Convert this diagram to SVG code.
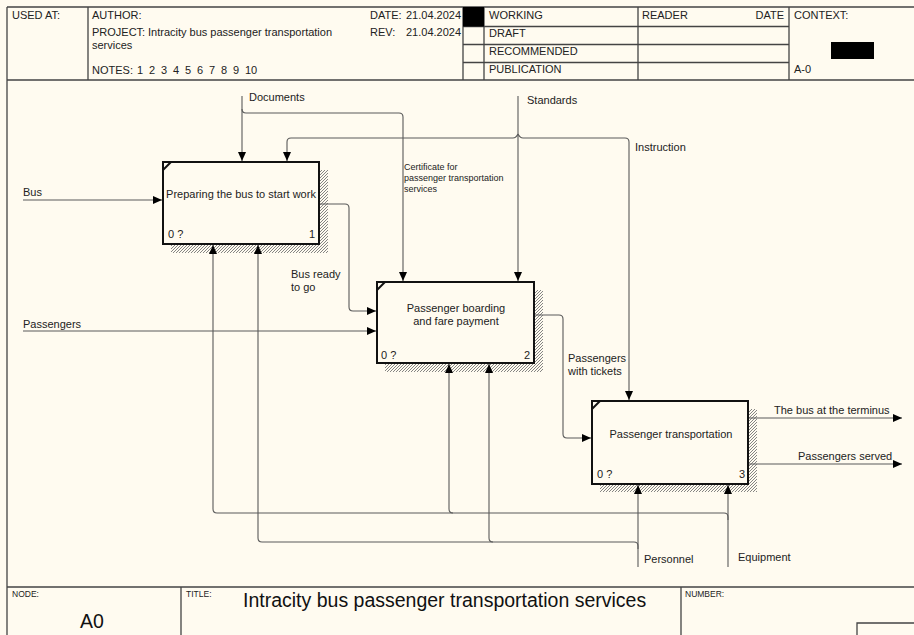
<svg xmlns="http://www.w3.org/2000/svg" width="914" height="635" viewBox="0 0 914 635">
<style>
.t{font-family:"Liberation Sans",Arial,sans-serif;font-size:11px;fill:#222}
.sm{font-size:9px}
.tiny{font-size:8.5px}
.big{font-size:19.5px;fill:#111}
.fr{fill:none;stroke:#444;stroke-width:1.3}
.ln{fill:none;stroke:#5a5a5a;stroke-width:1.1;marker-end:url(#ah)}
.box{fill:#FFFBF0;stroke:#111;stroke-width:2}
.sh{fill:url(#hatch)}
.cm{stroke:#111;stroke-width:2}
</style>
<defs>
<marker id="ah" markerWidth="9" markerHeight="8" refX="9" refY="4" orient="auto" markerUnits="userSpaceOnUse">
<path d="M0,0 L9,4 L0,8 Z" fill="#000"/>
</marker>
<pattern id="hatch" patternUnits="userSpaceOnUse" width="3" height="3">
<rect width="3" height="3" fill="#FFFBF0"/>
<path d="M-1,1 l2,-2 M0,3 l3,-3 M2,4 l2,-2" stroke="#777" stroke-width="0.9"/>
</pattern>
</defs>
<rect width="914" height="635" fill="#FFFBF0"/>

<g id="frame">
<path class="fr" d="M7,7 H914 M7,7 V635 M7,80 H914 M88,7 V80 M463,7 V80 M484,7 V80 M638,7 V80 M789,7 V80 M463,26.5 H789 M463,44.5 H789 M463,62.5 H789"/>
<rect x="463" y="7" width="21" height="19.5" fill="#000"/>
<rect x="831" y="42" width="43" height="17" fill="#000"/>
<text class="t" x="12" y="19">USED AT:</text>
<text class="t" x="92" y="19">AUTHOR:</text>
<text class="t" x="92" y="36">PROJECT:</text>
<text class="t" x="148" y="36">Intracity bus passenger transportation</text>
<text class="t" x="92" y="49">services</text>
<text class="t" x="92" y="74">NOTES:</text>
<text class="t" y="74"><tspan x="137">1</tspan><tspan x="149">2</tspan><tspan x="161">3</tspan><tspan x="173">4</tspan><tspan x="185">5</tspan><tspan x="197">6</tspan><tspan x="209">7</tspan><tspan x="221">8</tspan><tspan x="233">9</tspan><tspan x="245">10</tspan></text>
<text class="t" x="370" y="19">DATE:</text>
<text class="t" x="406" y="19">21.04.2024</text>
<text class="t" x="370" y="36">REV:</text>
<text class="t" x="406" y="36">21.04.2024</text>
<text class="t" x="489" y="19">WORKING</text>
<text class="t" x="489" y="37">DRAFT</text>
<text class="t" x="489" y="55">RECOMMENDED</text>
<text class="t" x="489" y="73">PUBLICATION</text>
<text class="t" x="642" y="19">READER</text>
<text class="t" x="784" y="19" text-anchor="end">DATE</text>
<text class="t" x="794" y="19">CONTEXT:</text>
<text class="t" x="794" y="73">A-0</text>
<path class="fr" d="M7,587 H914 M181,587 V635 M681,587 V635 M857,635 V623 H914"/>
<text class="t tiny" x="12" y="597">NODE:</text>
<text class="t tiny" x="186" y="597">TITLE:</text>
<text class="t tiny" x="685" y="597">NUMBER:</text>
<text class="t big" x="80" y="628">A0</text>
<text class="t big" x="243" y="607">Intracity bus passenger transportation services</text>
</g>

<g id="node1">
<path class="sh" d="M320,170 H328 V253 H171 V245 H320 Z"/>
<rect class="box" x="163" y="162" width="156" height="82"/>
<line class="cm" x1="163" y1="170" x2="171" y2="162"/>
<text class="t" x="241" y="198" text-anchor="middle" font-size="10.8">Preparing the bus to start work</text>
<text class="t" x="168" y="238">0 ?</text>
<text class="t" x="315" y="238" text-anchor="end">1</text>
</g>

<g id="node2">
<path class="sh" d="M535,290 H543 V372 H385 V364 H535 Z"/>
<rect class="box" x="377" y="282" width="157" height="81"/>
<line class="cm" x1="377" y1="290" x2="385" y2="282"/>
<text class="t" x="456" y="312" text-anchor="middle">Passenger boarding</text>
<text class="t" x="456" y="325" text-anchor="middle">and fare payment</text>
<text class="t" x="381" y="359">0 ?</text>
<text class="t" x="530" y="359" text-anchor="end">2</text>
</g>

<g id="node3">
<path class="sh" d="M749,409 H757 V492 H600 V485 H749 Z"/>
<rect class="box" x="592" y="401" width="156" height="83"/>
<line class="cm" x1="592" y1="409" x2="600" y2="401"/>
<text class="t" x="671" y="438" text-anchor="middle">Passenger transportation</text>
<text class="t" x="597" y="478">0 ?</text>
<text class="t" x="745" y="478" text-anchor="end">3</text>
</g>

<g id="connectors">
<path class="ln" d="M23,200 H162"/>
<path class="ln" d="M23,331 H376"/>
<path class="ln" d="M242,96 V161"/>
<path class="ln" d="M242,109 Q242,113 246,113 H399 Q403,113 403,117 V281"/>
<path class="ln" d="M518,96 V281"/>
<path class="ln" d="M518,134 Q516,138 513,138 H291 Q287,138 287,142 V161"/>
<path class="ln" d="M518,134 Q520,138 523,138 H625 Q629,138 629,142 V400"/>
<path class="ln" d="M320,204 H345 Q349,204 349,208 V307 Q349,311 353,311 H376"/>
<path class="ln" d="M535,315 H559 Q563,315 563,319 V434 Q563,438 567,438 H591"/>
<path class="ln" d="M749,418 H902"/>
<path class="ln" d="M749,464 H902"/>
<path class="ln" d="M728,567 V485"/>
<path class="ln" d="M728,520 V517 Q728,513 724,513 H217 Q213,513 213,509 V245"/>
<path class="ln" d="M453,513 Q449,513 449,509 V364"/>
<path class="ln" d="M638,567 V485"/>
<path class="ln" d="M638,549 V546 Q638,542 634,542 H262 Q258,542 258,538 V245"/>
<path class="ln" d="M493,542 Q489,542 489,538 V364"/>
<text class="t" x="23" y="196">Bus</text>
<text class="t" x="23" y="328">Passengers</text>
<text class="t" x="249" y="101">Documents</text>
<text class="t" x="527" y="104">Standards</text>
<text class="t" x="635" y="151">Instruction</text>
<text class="t sm" x="404" y="170">Certificate for</text>
<text class="t sm" x="404" y="181">passenger transportation</text>
<text class="t sm" x="404" y="192">services</text>
<text class="t" x="291" y="278">Bus ready</text>
<text class="t" x="291" y="291">to go</text>
<text class="t" x="568" y="362">Passengers</text>
<text class="t" x="568" y="375">with tickets</text>
<text class="t" x="774" y="414">The bus at the terminus</text>
<text class="t" x="798" y="460">Passengers served</text>
<text class="t" x="644" y="563">Personnel</text>
<text class="t" x="738" y="561">Equipment</text>
</g>
</svg>
